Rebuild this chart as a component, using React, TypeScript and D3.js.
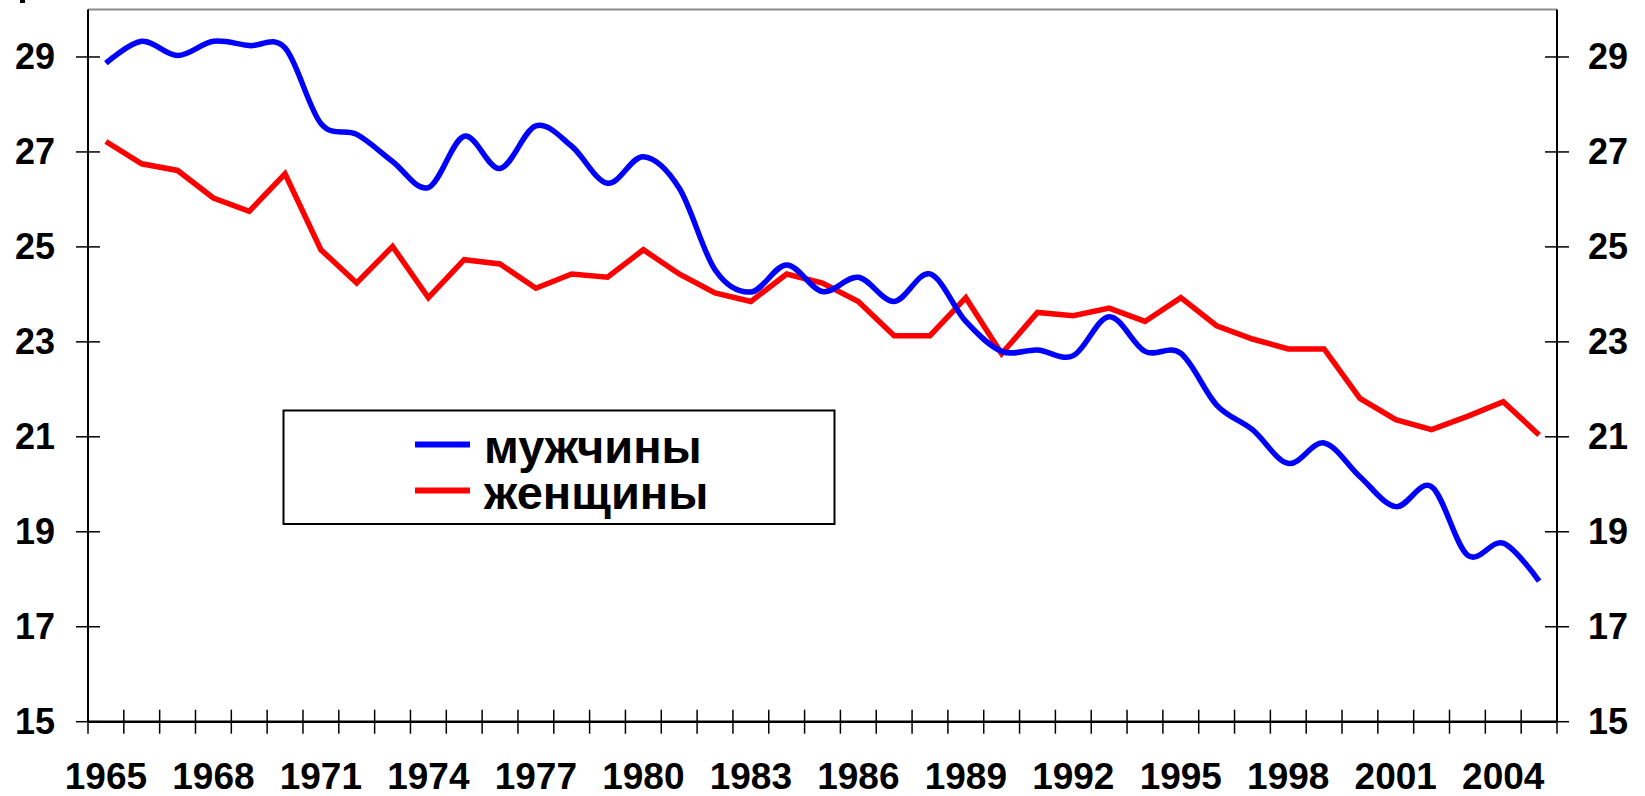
import { useEffect } from "react"
import * as d3 from "d3"

const years = [
  1965, 1966, 1967, 1968, 1969, 1970, 1971, 1972, 1973, 1974,
  1975, 1976, 1977, 1978, 1979, 1980, 1981, 1982, 1983, 1984,
  1985, 1986, 1987, 1988, 1989, 1990, 1991, 1992, 1993, 1994,
  1995, 1996, 1997, 1998, 1999, 2000, 2001, 2002, 2003, 2004, 2005,
]

// мужчины (blue, smoothed)
const men = [
  28.87, 29.33, 29.03, 29.33, 29.24, 29.19, 27.6, 27.37, 26.8, 26.25,
  27.33, 26.65, 27.55, 27.12, 26.34, 26.9, 26.24, 24.52, 24.05, 24.62,
  24.06, 24.36, 23.85, 24.43, 23.43, 22.8, 22.83, 22.71, 23.53, 22.8,
  22.76, 21.67, 21.15, 20.44, 20.87, 20.16, 19.53, 19.95, 18.51, 18.76, 17.96,
]

// женщины (red)
const women = [
  27.22, 26.75, 26.61, 26.03, 25.75, 26.54, 24.94, 24.24, 25.01, 23.93,
  24.73, 24.64, 24.13, 24.43, 24.36, 24.94, 24.43, 24.03, 23.85, 24.43,
  24.24, 23.85, 23.13, 23.13, 23.93, 22.75, 23.62, 23.55, 23.71, 23.43,
  23.93, 23.34, 23.06, 22.85, 22.85, 21.81, 21.36, 21.15, 21.43, 21.74, 21.04,
]

const yTicks = [15, 17, 19, 21, 23, 25, 27, 29]
const xLabels = [1965, 1968, 1971, 1974, 1977, 1980, 1983, 1986, 1989, 1992, 1995, 1998, 2001, 2004]

const legendItems = [
  { name: "мужчины", color: "#0000ff" },
  { name: "женщины", color: "#ff0000" },
]

const FONT = "'Liberation Sans', Arial, sans-serif"

export default function App() {
  useEffect(() => {
    const existing = d3.select("#chart").select("svg")
    if (!existing.empty()) existing.remove()

    const width = 1645
    const height = 796
    const left = 88
    const right = 1557
    const top = 9.5
    const bottom = 721.7

    const svg = d3.select("#chart")
      .append("svg")
      .attr("width", width)
      .attr("height", height)
      .style("display", "block")
      .style("background", "#fff")

    const x = d3.scaleBand<number>()
      .domain(years)
      .range([left, right])
      .paddingInner(0)
      .paddingOuter(0)

    const y = d3.scaleLinear()
      .domain([15, 30])
      .range([bottom, top])

    const cx = (yr: number) => (x(yr) as number) + x.bandwidth() / 2

    // top frame line (gray)
    svg.append("line")
      .attr("x1", left).attr("x2", right)
      .attr("y1", top).attr("y2", top)
      .attr("stroke", "#8c8c8c")
      .attr("stroke-width", 2)

    // small cut-off mark at the very top left
    svg.append("rect")
      .attr("x", 20).attr("y", 0)
      .attr("width", 5).attr("height", 3)
      .attr("fill", "#000")

    // left and right axes
    ;[left, right].forEach((ax) => {
      svg.append("line")
        .attr("x1", ax).attr("x2", ax)
        .attr("y1", top).attr("y2", bottom)
        .attr("stroke", "#000")
        .attr("stroke-width", 2)
    })

    // y ticks on both sides
    yTicks.forEach((t) => {
      ;[left, right].forEach((ax) => {
        svg.append("line")
          .attr("x1", ax - 12).attr("x2", ax + 12)
          .attr("y1", y(t)).attr("y2", y(t))
          .attr("stroke", "#000")
          .attr("stroke-width", 1.5)
      })
      svg.append("text")
        .attr("x", 55)
        .attr("y", y(t) + 12.5)
        .attr("text-anchor", "end")
        .style("font-family", FONT)
        .style("font-weight", "bold")
        .style("font-size", "36px")
        .text(t)
      svg.append("text")
        .attr("x", 1588)
        .attr("y", y(t) + 12.5)
        .attr("text-anchor", "start")
        .style("font-family", FONT)
        .style("font-weight", "bold")
        .style("font-size", "36px")
        .text(t)
    })

    // bottom axis
    svg.append("line")
      .attr("x1", left).attr("x2", right)
      .attr("y1", bottom).attr("y2", bottom)
      .attr("stroke", "#000")
      .attr("stroke-width", 2.5)

    // x ticks at category boundaries
    const bounds = years.map((yr) => x(yr) as number).concat([right])
    bounds.forEach((bx) => {
      svg.append("line")
        .attr("x1", bx).attr("x2", bx)
        .attr("y1", bottom - 12).attr("y2", bottom + 12)
        .attr("stroke", "#000")
        .attr("stroke-width", 1.5)
    })

    xLabels.forEach((yr) => {
      svg.append("text")
        .attr("x", cx(yr))
        .attr("y", 789)
        .attr("text-anchor", "middle")
        .style("font-family", FONT)
        .style("font-weight", "bold")
        .style("font-size", "37px")
        .text(yr)
    })

    // lines
    const womenLine = d3.line<number>()
      .x((_, i) => cx(years[i]))
      .y((d) => y(d))

    const menLine = d3.line<number>()
      .x((_, i) => cx(years[i]))
      .y((d) => y(d))
      .curve(d3.curveCardinal.tension(0))

    svg.append("path")
      .datum(women)
      .attr("fill", "none")
      .attr("stroke", "#ff0000")
      .attr("stroke-width", 5.5)
      .attr("stroke-linejoin", "miter")
      .attr("d", womenLine)

    svg.append("path")
      .datum(men)
      .attr("fill", "none")
      .attr("stroke", "#0000ff")
      .attr("stroke-width", 5.5)
      .attr("stroke-linejoin", "round")
      .attr("d", menLine)

    // legend
    const lg = svg.append("g")
    lg.append("rect")
      .attr("x", 283.5).attr("y", 410.5)
      .attr("width", 551).attr("height", 113.5)
      .attr("fill", "#fff")
      .attr("stroke", "#000")
      .attr("stroke-width", 2)

    legendItems.forEach((it, i) => {
      const ly = 444.5 + i * 46
      lg.append("line")
        .attr("x1", 415).attr("x2", 470)
        .attr("y1", ly).attr("y2", ly)
        .attr("stroke", it.color)
        .attr("stroke-width", 6)
      lg.append("text")
        .attr("x", 484)
        .attr("y", ly + 18.5)
        .style("font-family", FONT)
        .style("font-weight", "bold")
        .style("font-size", "47px")
        .text(it.name)
    })
  }, [])

  return (
    <div style={{ position: "absolute", left: 0, top: 0 }}>
      <div id="chart"></div>
    </div>
  )
}
